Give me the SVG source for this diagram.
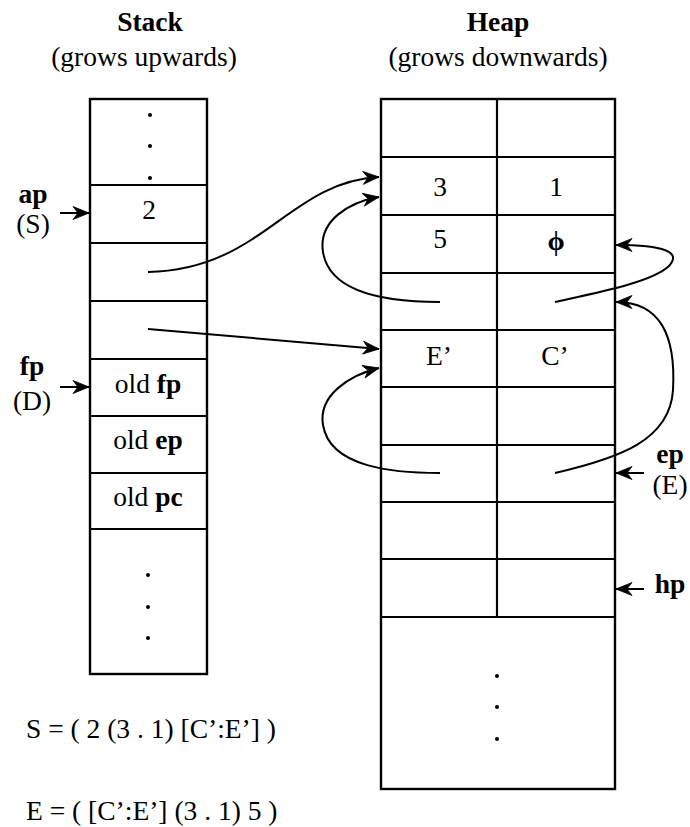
<svg xmlns="http://www.w3.org/2000/svg" width="690" height="827" viewBox="0 0 690 827">
  <style>
    text { font-family: "Liberation Serif", "Times New Roman", serif; font-size: 27.5px; fill: #000; }
    .b { font-weight: bold; }
    .c { text-anchor: middle; }
    .box { fill: none; stroke: #000; stroke-width: 2.4; }
    .rule { stroke: #000; stroke-width: 2.2; }
    .link { fill: none; stroke: #000; stroke-width: 2; }
    .dot { fill: #000; }
  </style>
  <defs>
    <marker id="ah" markerUnits="userSpaceOnUse" markerWidth="20" markerHeight="16" viewBox="-18 -8 20 16" refX="0" refY="0" orient="auto">
      <path d="M0,0 L-16,-6.5 L-11,0 L-16,6.5 Z" fill="#000" stroke="#000" stroke-width="0.8" stroke-linejoin="round"/>
    </marker>
  </defs>
  <rect width="690" height="827" fill="#fff"/>

  <!-- titles -->
  <g id="stack-title">
    <text class="b c" x="150" y="31">Stack</text>
    <text class="c" x="144" y="66">(grows upwards)</text>
  </g>
  <g id="heap-title">
    <text class="b c" x="498" y="31">Heap</text>
    <text class="c" x="498" y="66">(grows downwards)</text>
  </g>

  <!-- stack column -->
  <g id="stack">
    <rect class="box" x="90" y="99" width="117" height="575"/>
    <line class="rule" x1="90" y1="185" x2="207" y2="185"/>
    <line class="rule" x1="90" y1="243" x2="207" y2="243"/>
    <line class="rule" x1="90" y1="301" x2="207" y2="301"/>
    <line class="rule" x1="90" y1="359" x2="207" y2="359"/>
    <line class="rule" x1="90" y1="416" x2="207" y2="416"/>
    <line class="rule" x1="90" y1="473" x2="207" y2="473"/>
    <line class="rule" x1="90" y1="529" x2="207" y2="529"/>
    <circle class="dot" cx="150" cy="115" r="2"/>
    <circle class="dot" cx="150" cy="146" r="2"/>
    <circle class="dot" cx="150" cy="178" r="2"/>
    <text class="c" x="149" y="219">2</text>
    <text class="c" x="148" y="393">old <tspan class="b">fp</tspan></text>
    <text class="c" x="148" y="449">old <tspan class="b">ep</tspan></text>
    <text class="c" x="148" y="506">old <tspan class="b">pc</tspan></text>
    <circle class="dot" cx="148" cy="575" r="2"/>
    <circle class="dot" cx="148" cy="607" r="2"/>
    <circle class="dot" cx="148" cy="638" r="2"/>
  </g>

  <!-- heap column -->
  <g id="heap">
    <rect class="box" x="381" y="99" width="234" height="690"/>
    <line class="rule" x1="497" y1="99" x2="497" y2="617"/>
    <line class="rule" x1="381" y1="157" x2="615" y2="157"/>
    <line class="rule" x1="381" y1="215" x2="615" y2="215"/>
    <line class="rule" x1="381" y1="273" x2="615" y2="273"/>
    <line class="rule" x1="381" y1="330" x2="615" y2="330"/>
    <line class="rule" x1="381" y1="387" x2="615" y2="387"/>
    <line class="rule" x1="381" y1="445" x2="615" y2="445"/>
    <line class="rule" x1="381" y1="502" x2="615" y2="502"/>
    <line class="rule" x1="381" y1="559" x2="615" y2="559"/>
    <line class="rule" x1="381" y1="617" x2="615" y2="617"/>
    <text class="c" x="440" y="196">3</text>
    <text class="c" x="556" y="196">1</text>
    <text class="c" x="440" y="248">5</text>
    <text class="c b" x="556" y="250">ϕ</text>
    <text class="c" x="439" y="365">E’</text>
    <text class="c" x="555" y="365">C’</text>
    <circle class="dot" cx="497" cy="676" r="2"/>
    <circle class="dot" cx="497" cy="707" r="2"/>
    <circle class="dot" cx="497" cy="739" r="2"/>
  </g>

  <!-- register labels -->
  <g id="ap">
    <text class="b c" x="33" y="203">ap</text>
    <text class="c" x="33" y="233">(S)</text>
  </g>
  <g id="fp">
    <text class="b c" x="32" y="375">fp</text>
    <text class="c" x="32" y="410">(D)</text>
  </g>
  <g id="ep">
    <text class="b c" x="670" y="463">ep</text>
    <text class="c" x="670" y="494">(E)</text>
  </g>
  <g id="hp">
    <text class="b c" x="670" y="593">hp</text>
  </g>

  <!-- pointers -->
  <g id="connectors">
    <line class="link" x1="60" y1="213" x2="89" y2="213" marker-end="url(#ah)"/>
    <line class="link" x1="60" y1="387" x2="89" y2="387" marker-end="url(#ah)"/>
    <line class="link" x1="644" y1="473" x2="616" y2="473" marker-end="url(#ah)"/>
    <line class="link" x1="644" y1="589" x2="616" y2="589" marker-end="url(#ah)"/>

    <path class="link" d="M148,272 C262,270 288,182 379,177" marker-end="url(#ah)"/>
    <path class="link" d="M440,302 C395,302 330,296 323,252 C318,220 350,202 379,197" marker-end="url(#ah)"/>
    <path class="link" d="M555,302 C600,292 652,282 669,266 C682,252 664,245 616,245" marker-end="url(#ah)"/>
    <path class="link" d="M148,329 L379,349" marker-end="url(#ah)"/>
    <path class="link" d="M440,473 C395,473 330,468 323,425 C318,395 350,375 379,368" marker-end="url(#ah)"/>
    <path class="link" d="M555,473 C620,458 670,440 673,390 C676,335 660,302 616,302" marker-end="url(#ah)"/>
  </g>

  <!-- list notation -->
  <g id="notation">
    <text x="26" y="738">S = ( 2 (3 . 1) [C’:E’] )</text>
    <text x="26" y="820">E = ( [C’:E’] (3 . 1) 5 )</text>
  </g>
</svg>
